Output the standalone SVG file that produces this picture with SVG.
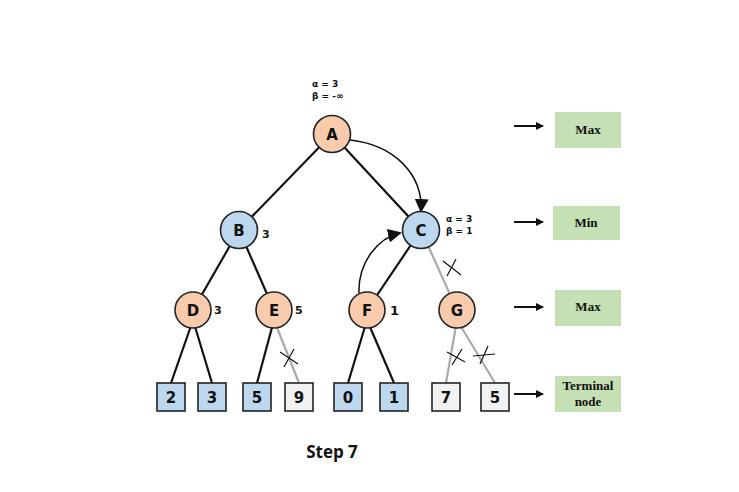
<svg xmlns="http://www.w3.org/2000/svg" width="739" height="492" viewBox="0 0 739 492">
<style>
.n{stroke:#222;stroke-width:1.6}
.o{fill:#f8cbad}.b{fill:#bdd7ee}.w{fill:#f2f2f2}
.t{font-family:"DejaVu Sans",sans-serif;font-weight:bold;font-size:15px;text-anchor:middle;fill:#111}
.s{font-family:"DejaVu Sans",sans-serif;font-weight:bold;font-size:11px;fill:#111}
.ab{font-family:"DejaVu Sans",sans-serif;font-weight:bold;font-size:9px;fill:#111}
.e{stroke:#111;stroke-width:2.2;fill:none}
.g{stroke:#aaa;stroke-width:2.2;fill:none}
.x{stroke:#111;stroke-width:1.2}
.lab{fill:#c5e0b4}
.lt{font-family:"Liberation Serif",serif;font-weight:bold;font-size:13px;text-anchor:middle;fill:#111}
</style>
<defs><marker id="ah" markerWidth="8" markerHeight="8" refX="7" refY="4" orient="auto" markerUnits="userSpaceOnUse"><path d="M0,0 L8,4 L0,8z" fill="#111"/></marker>
<marker id="ah2" markerWidth="14" markerHeight="14" refX="12" refY="7" orient="auto" markerUnits="userSpaceOnUse"><path d="M0,0 L14,7 L0,14z" fill="#111"/></marker></defs>
<rect width="739" height="492" fill="#fff"/>
<g id="connectors">
<line class="e" x1="332" y1="134" x2="239" y2="230"/>
<line class="e" x1="332" y1="134" x2="421" y2="230"/>
<line class="e" x1="239" y1="230" x2="193" y2="310"/>
<line class="e" x1="239" y1="230" x2="274" y2="310"/>
<line class="e" x1="421" y1="230" x2="367" y2="310"/>
<line class="g" x1="421" y1="230" x2="457" y2="310"/>
<line class="e" x1="193" y1="320" x2="171" y2="383"/>
<line class="e" x1="193" y1="320" x2="212" y2="383"/>
<line class="e" x1="274" y1="320" x2="257" y2="383"/>
<line class="g" x1="274" y1="320" x2="299" y2="383"/>
<line class="e" x1="367" y1="320" x2="348" y2="383"/>
<line class="e" x1="367" y1="320" x2="394" y2="383"/>
<line class="g" x1="457" y1="320" x2="446" y2="383"/>
<line class="g" x1="457" y1="320" x2="495" y2="383"/>
<path class="x" d="M443,261 L461,275 M447,276 L456,259"/>
<path class="x" d="M280,352 L298,364 M284,367 L294,349"/>
<path class="x" d="M447,352 L465,362 M452,365 L462,349"/>
<path class="x" d="M473,356 L495,354 M480,364 L488,346"/>
<path d="M350,140 C395,145 423,175 421,211" stroke="#111" stroke-width="1.5" fill="none" marker-end="url(#ah2)"/>
<path d="M359,293 C358,262 378,238 400,233" stroke="#111" stroke-width="1.5" fill="none" marker-end="url(#ah2)"/>
<line x1="514" y1="126" x2="543" y2="126" stroke="#111" stroke-width="2" marker-end="url(#ah)"/>
<line x1="514" y1="222" x2="543" y2="222" stroke="#111" stroke-width="2" marker-end="url(#ah)"/>
<line x1="514" y1="307" x2="543" y2="307" stroke="#111" stroke-width="2" marker-end="url(#ah)"/>
<line x1="514" y1="394" x2="543" y2="394" stroke="#111" stroke-width="2" marker-end="url(#ah)"/>
</g>
<g id="A"><circle class="n o" cx="332" cy="134" r="18.5"/><text class="t" x="332" y="140">A</text>
<text class="ab" x="312" y="87">α = 3</text><text class="ab" x="312" y="99">β = -∞</text></g>
<g id="B"><circle class="n b" cx="239" cy="230" r="18.5"/><text class="t" x="239" y="236">B</text><text class="s" x="262" y="238">3</text></g>
<g id="C"><circle class="n b" cx="421" cy="230" r="18.5"/><text class="t" x="421" y="236">C</text>
<text class="ab" x="446" y="222">α = 3</text><text class="ab" x="446" y="234">β = 1</text></g>
<g id="D"><circle class="n o" cx="193" cy="310" r="18"/><text class="t" x="193" y="316">D</text><text class="s" x="214" y="314">3</text></g>
<g id="E"><circle class="n o" cx="274" cy="310" r="18"/><text class="t" x="274" y="316">E</text><text class="s" x="295" y="314">5</text></g>
<g id="F"><circle class="n o" cx="367" cy="310" r="18"/><text class="t" x="367" y="316">F</text><text class="s" x="390" y="315" style="font-size:13px">1</text></g>
<g id="G"><circle class="n o" cx="457" cy="310" r="18"/><text class="t" x="457" y="316">G</text></g>
<g id="L2"><rect class="n b" x="157" y="383" width="28" height="28"/><text class="t" x="171" y="403">2</text></g>
<g id="L3"><rect class="n b" x="198" y="383" width="28" height="28"/><text class="t" x="212" y="403">3</text></g>
<g id="L5a"><rect class="n b" x="243" y="383" width="28" height="28"/><text class="t" x="257" y="403">5</text></g>
<g id="L9"><rect class="n w" x="285" y="383" width="28" height="28"/><text class="t" x="299" y="403">9</text></g>
<g id="L0"><rect class="n b" x="334" y="383" width="28" height="28"/><text class="t" x="348" y="403">0</text></g>
<g id="L1"><rect class="n b" x="380" y="383" width="28" height="28"/><text class="t" x="394" y="403">1</text></g>
<g id="L7"><rect class="n w" x="432" y="383" width="28" height="28"/><text class="t" x="446" y="403">7</text></g>
<g id="L5b"><rect class="n w" x="481" y="383" width="28" height="28"/><text class="t" x="495" y="403">5</text></g>
<g id="legMax1"><rect class="lab" x="555" y="112" width="66" height="36"/><text class="lt" x="588" y="134">Max</text></g>
<g id="legMin"><rect class="lab" x="553" y="206" width="67" height="34"/><text class="lt" x="586" y="227">Min</text></g>
<g id="legMax2"><rect class="lab" x="555" y="290" width="66" height="36"/><text class="lt" x="588" y="311">Max</text></g>
<g id="legTerm"><rect class="lab" x="555" y="376" width="66" height="36"/><text class="lt" x="588" y="390">Terminal</text><text class="lt" x="588" y="406">node</text></g>
<text x="332" y="458" style="font-family:'Open Sans','DejaVu Sans',sans-serif;font-weight:bold;font-size:17px;text-anchor:middle;fill:#111">Step 7</text>
</svg>
